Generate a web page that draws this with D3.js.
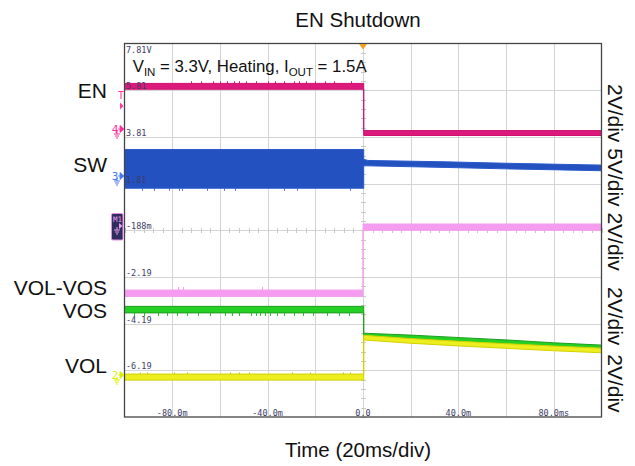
<!DOCTYPE html>
<html><head><meta charset="utf-8">
<script src="https://cdn.jsdelivr.net/npm/d3@7"></script>
<style>body{margin:0;background:#fff}svg{display:block}</style>
</head><body><svg id="c" width="635" height="466"></svg>
<script>
// ---------------- data ----------------
const timeDomain = [-100, 100];            // ms, 20 ms/div
const levelDomain = [-8.19, 7.81];         // screen volts (2 V/div grid)
const timeGrid = [-100,-80,-60,-40,-20,0,20,40,60,80,100];
const timeLabelValues = [-80, -40, 0, 40, 80];
const timeLabels = ["-80.0m", "-40.0m", "0.0", "40.0m", "80.0ms"];
const levelGrid = [7.81, 5.81, 3.81, 1.81, -0.188, -2.19, -4.19, -6.19, -8.19];
const levelLabelValues = [7.81, 5.81, 3.81, 1.81, -0.188, -2.19, -4.19, -6.19];
const levelLabels = ["7.81V", "5.81", "3.81", "1.81", "-188m", "-2.19", "-4.19", "-6.19"];
const channelNames = ["EN", "SW", "VOL-VOS", "VOS", "VOL"];
const scaleLabelA = "2V/div 5V/div 2V/div";
const scaleLabelB = "2V/div 2V/div";
const titleText = "EN Shutdown";
const xAxisTitle = "Time (20ms/div)";

// trace envelopes: time (ms), low and high (screen volts)
const enT  = [-100, 0.3, 0.3, 100];
const enLo = [5.85, 5.85, 3.87, 3.87];
const enHi = [6.10, 6.10, 4.08, 4.08];
const enSpikes = [-72, -68, -63, -60, -57, -54, -52, -49, -45, -40, -37, -33, -29, -27, -24, -20, -16, -12, -5];

const swT  = [-100, 0.3, 0.3, 2, 35, 60, 100];
const swLo = [1.61, 1.61, 2.57, 2.57, 2.50, 2.44, 2.36];
const swHi = [3.27, 3.27, 2.85, 2.80, 2.74, 2.68, 2.60];
const swSpikes = [-92.7, -87.8, -81.5, -77.3, -75.9, -65.4, -58.4, -53.5, -33.3, -27.7, -5.4];

const vvT  = [-100, 0, 0, 100];
const vvLo = [-3.03, -3.03, -0.20, -0.20];
const vvHi = [-2.75, -2.75, 0.08, 0.08];
const vvSpikes = [-77.5, -75.3, -42.3];

const vosT  = [-100, 0.3, 0.3, 19.8, 40.8, 60.3, 79.9, 100];
const vosLo = [-3.73, -3.73, -4.82, -4.89, -5.01, -5.11, -5.22, -5.32];
const vosHi = [-3.45, -3.45, -4.60, -4.68, -4.79, -4.89, -5.01, -5.11];
const vosSpikes = [-96, -92, -86, -82, -78, -74, -69, -64, -58, -55, -52, -47, -45, -43, -41, -39, -36, -33, -29, -25, -21, -15, -10, -6];

const volT  = [-100, 0.3, 0.3, 19.8, 40.8, 60.3, 79.9, 100];
const volLo = [-6.61, -6.61, -4.89, -5.03, -5.15, -5.25, -5.35, -5.44];
const volHi = [-6.35, -6.35, -4.69, -4.83, -4.95, -5.05, -5.15, -5.24];
const volSpikes = [-93.4, -90.6, -79.4, -73.8, -55.7, -52.2, -48, -29.8, -22.1, -8.2, -5.4];

// ---------------- chart ----------------
const svg = d3.select("#c");
const L = 124.5, R = 601.5, T = 43.5, B = 417;
const x = d3.scaleLinear().domain(timeDomain).range([L, R]);
const y = d3.scaleLinear().domain(levelDomain).range([B, T]);
const sans = "'Liberation Sans', Arial, sans-serif";
const mono = "'DejaVu Sans Mono', monospace";

// grid
const g = svg.append("g");
g.selectAll("line.vx").data(timeGrid.slice(1, -1)).join("line")
  .attr("x1", d => Math.round(x(d)) + 0.5).attr("x2", d => Math.round(x(d)) + 0.5)
  .attr("y1", T).attr("y2", B).attr("stroke", "#d4d4d4").attr("stroke-width", 1);
g.selectAll("line.hy").data(levelGrid.slice(1, -1)).join("line")
  .attr("y1", d => Math.round(y(d)) + 0.5).attr("y2", d => Math.round(y(d)) + 0.5)
  .attr("x1", L).attr("x2", R).attr("stroke", "#d4d4d4").attr("stroke-width", 1);

// minor ticks on center lines
const xMinor = d3.range(-100, 100.01, 4);
const yMinor = d3.range(levelDomain[0], levelDomain[1] + 0.01, 0.4);
const cx = Math.round(x(0)) + 0.5, cy = Math.round(y(-0.188)) + 0.5;
g.selectAll("line.mx").data(xMinor).join("line")
  .attr("x1", d => Math.round(x(d)) + 0.5).attr("x2", d => Math.round(x(d)) + 0.5)
  .attr("y1", cy - 2.5).attr("y2", cy + 2.5).attr("stroke", "#c8c8c8");
g.selectAll("line.my").data(yMinor).join("line")
  .attr("y1", d => Math.round(y(d)) + 0.5).attr("y2", d => Math.round(y(d)) + 0.5)
  .attr("x1", cx - 2.5).attr("x2", cx + 2.5).attr("stroke", "#c8c8c8");

// traces
function drawTrace(ts, lo, hi, fill, stroke, spikes, spikeFrom, spikeTo, spikeColor) {
  const pts = ts.map((t, i) => ({t, lo: lo[i], hi: hi[i]}));
  const area = d3.area().x(d => x(d.t)).y0(d => y(d.lo)).y1(d => y(d.hi));
  svg.append("path").attr("d", area(pts)).attr("fill", fill)
    .attr("stroke", stroke).attr("stroke-width", 1);
  svg.append("g").selectAll("line").data(spikes).join("line")
    .attr("x1", d => Math.round(x(d)) + 0.5).attr("x2", d => Math.round(x(d)) + 0.5)
    .attr("y1", y(spikeFrom)).attr("y2", y(spikeTo))
    .attr("stroke", spikeColor).attr("stroke-width", 1);
}
drawTrace(enT, enLo, enHi, "#dc1a7c", "#d0106f", enSpikes, 6.10, 6.19, "#c8106a");
drawTrace(swT, swLo, swHi, "#2352c0", "#2a5acb", swSpikes, 1.61, 1.50, "#4a6ec8");
drawTrace(vvT, vvLo, vvHi, "#f59cf0", "#f3a2ee", vvSpikes, -2.75, -2.62, "#f59cf0");
drawTrace(vosT, vosLo, vosHi, "#25d025", "#1f9e1f", vosSpikes, -3.73, -3.86, "#22c022");
drawTrace(volT, volLo, volHi, "#eded20", "#d2d200", volSpikes, -6.35, -6.28, "#c8c800");

// level labels
svg.append("g").selectAll("text").data(levelLabelValues).join("text")
  .attr("x", 126).attr("y", (d, i) => i === 0 ? 52.5 : Math.round(y(d)) - 1)
  .attr("font-family", mono).attr("font-size", 8.5).attr("fill", "#3c3c66")
  .text((d, i) => levelLabels[i]);
// time labels
svg.append("g").selectAll("text").data(timeLabelValues).join("text")
  .attr("x", d => x(d)).attr("y", 415.5).attr("text-anchor", "middle")
  .attr("font-family", mono).attr("font-size", 8.5).attr("fill", "#3c3c66")
  .text((d, i) => timeLabels[i]);

// border
svg.append("rect").attr("x", L).attr("y", T).attr("width", R - L).attr("height", B - T)
  .attr("fill", "none").attr("stroke", "#454545").attr("stroke-width", 1.3);

// trigger marker top
svg.append("path").attr("d", `M${x(0) - 4},${T + 0.5} L${x(0) + 4},${T + 0.5} L${x(0)},${T + 6} Z`)
  .attr("fill", "#f0a020");

// channel markers on the left
function ground(gx, gy, color) {
  const p = d3.path();
  p.moveTo(gx, gy); p.lineTo(gx, gy + 3);
  p.moveTo(gx - 3, gy + 3); p.lineTo(gx + 3, gy + 3);
  p.moveTo(gx - 2, gy + 5); p.lineTo(gx + 2, gy + 5);
  p.moveTo(gx - 1, gy + 7); p.lineTo(gx + 1, gy + 7);
  svg.append("path").attr("d", p.toString()).attr("stroke", color).attr("fill", "none").attr("stroke-width", 1);
}
function marker(num, my, color) {
  svg.append("text").attr("x", 115).attr("y", my + 4).attr("text-anchor", "middle")
    .attr("font-family", mono).attr("font-size", 11).attr("fill", color).text(num);
  svg.append("path").attr("d", `M118,${my} L120,${my} M120,${my - 3.5} L124,${my} L120,${my + 3.5} Z`)
    .attr("fill", color).attr("stroke", color).attr("stroke-width", 0.8);
  ground(117, my + 2, color);
}
// trigger "T"
svg.append("text").attr("x", 121).attr("y", 99).attr("text-anchor", "middle")
  .attr("font-family", mono).attr("font-size", 10).attr("fill", "#ff3a9c").text("T");
svg.append("path").attr("d", "M120,102.5 L123.5,106 L120,109.5 Z").attr("fill", "#ff3a9c");
marker("4", 129, "#ff2d9b");
marker("3", 176, "#4a78f0");
// M1 box
svg.append("rect").attr("x", 111.5).attr("y", 213.5).attr("width", 11.5).attr("height", 26.5).attr("rx", 1.5)
  .attr("fill", "#2e2e5e").attr("stroke", "#e58ae8").attr("stroke-width", 1);
svg.append("text").attr("x", 113).attr("y", 222).attr("font-family", mono).attr("font-size", 7.5)
  .attr("fill", "#f0a0f0").text("M1");
svg.append("path").attr("d", "M119,223 L122.5,226 L119,229 Z").attr("fill", "#f0a0f0");
ground(117, 227, "#f0a0f0");
marker("2", 375, "#d8f000");

// channel names
svg.append("g").selectAll("text").data(channelNames).join("text")
  .attr("x", 107).attr("y", (d, i) => [97.7, 171.7, 295, 318, 373][i])
  .attr("text-anchor", "end").attr("font-family", sans).attr("font-size", 21).attr("fill", "#111")
  .text(d => d);

// annotation
const ann = svg.append("text").attr("x", 132.7).attr("y", 72.3).attr("font-family", sans)
  .attr("font-size", 16.8).attr("fill", "#111");
ann.append("tspan").text("V");
ann.append("tspan").attr("font-size", 11.5).attr("dy", 4).text("IN");
ann.append("tspan").attr("dy", -4).text(" = 3.3V, Heating, I");
ann.append("tspan").attr("font-size", 11.5).attr("dy", 4).text("OUT");
ann.append("tspan").attr("dy", -4).text(" = 1.5A");

// right scale labels (rotated)
svg.append("text").attr("transform", "translate(607.5,84) rotate(90)")
  .attr("font-family", sans).attr("font-size", 21).attr("fill", "#111").text(scaleLabelA);
svg.append("text").attr("transform", "translate(607.5,287) rotate(90)")
  .attr("font-family", sans).attr("font-size", 21).attr("word-spacing", 3).attr("fill", "#111").text(scaleLabelB);

// title & axis title
svg.append("text").attr("x", 358).attr("y", 27.3).attr("text-anchor", "middle")
  .attr("font-family", sans).attr("font-size", 20.5).attr("fill", "#111").text(titleText);
svg.append("text").attr("x", 358).attr("y", 456.5).attr("text-anchor", "middle")
  .attr("font-family", sans).attr("font-size", 20.5).attr("fill", "#111").text(xAxisTitle);
</script></body></html>
